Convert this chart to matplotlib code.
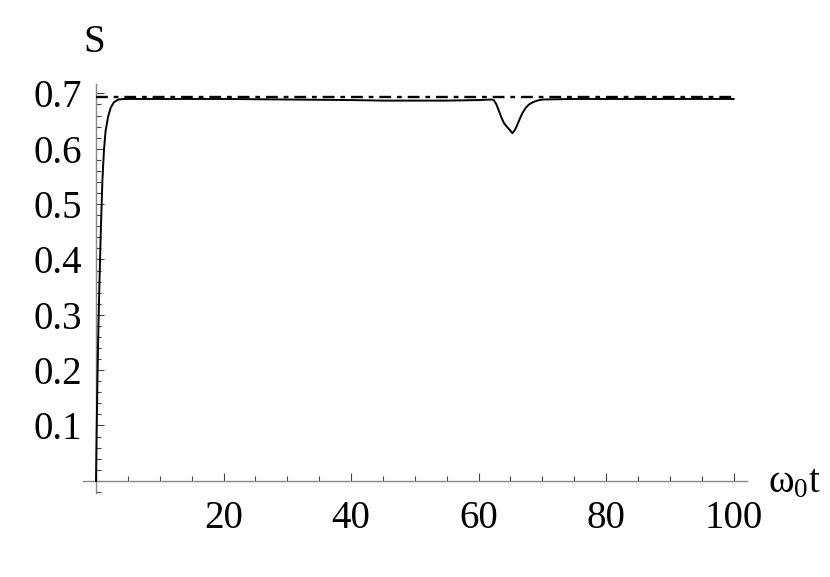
import matplotlib
matplotlib.use("Agg")
import matplotlib.pyplot as plt
from matplotlib.ticker import MultipleLocator, FixedLocator

# Entropy S versus omega_0 t
t_vals = [0, 0.1, 0.25, 0.4, 0.55, 0.75, 1.0, 1.25, 1.5, 1.9, 2.3, 2.8, 3.5, 4.5,
          6, 10, 20, 30, 40, 45, 50, 55, 60, 62, 62.4, 62.8, 63.2, 63.6, 64.0,
          64.5, 64.9, 65.3, 65.7, 66.1, 66.5, 66.9, 67.4, 67.9, 68.5, 69.2,
          70, 75, 80, 90, 100]
s_vals = [0, 0.09, 0.2, 0.29, 0.362, 0.45, 0.542, 0.598, 0.632, 0.658, 0.674,
          0.684, 0.689, 0.690, 0.690, 0.690, 0.690, 0.689, 0.688, 0.687, 0.687,
          0.687, 0.688, 0.689, 0.688, 0.680, 0.668, 0.656, 0.646, 0.639, 0.634,
          0.628, 0.634, 0.644, 0.655, 0.665, 0.674, 0.680, 0.684, 0.687, 0.689,
          0.690, 0.690, 0.690, 0.690]

# asymptote ln 2
asym_t = [0, 100]
asym_s = [0.6931, 0.6931]

x_major = [20, 40, 60, 80, 100]
x_labels = ["20", "40", "60", "80", "100"]
y_major = [0.1, 0.2, 0.3, 0.4, 0.5, 0.6, 0.7]
y_labels = ["0.1", "0.2", "0.3", "0.4", "0.5", "0.6", "0.7"]

plt.rcParams['font.family'] = ['Liberation Serif', 'DejaVu Serif']
plt.rcParams['mathtext.fontset'] = 'custom'
plt.rcParams['mathtext.rm'] = 'Liberation Serif'
plt.rcParams['mathtext.it'] = 'Liberation Serif'

fig = plt.figure(figsize=(8.30, 5.77), dpi=100)
ax = fig.add_axes([0.1, 0.1456, 0.8, 0.7088])

ax.plot(t_vals, s_vals, color='black', lw=1.4, zorder=3)
ax.plot(asym_t, asym_s, color='black', lw=1.7, linestyle=(0, (5, 2.5, 2, 2.5)), zorder=4)

ax.set_xlim(-2.04, 102.1)
ax.set_ylim(-0.022, 0.717)

for side in ['top', 'right']:
    ax.spines[side].set_visible(False)
ax.spines['left'].set_position(('data', 0))
ax.spines['bottom'].set_position(('data', 0))
axis_col = '#888888'
for side in ['left', 'bottom']:
    ax.spines[side].set_color(axis_col)
    ax.spines[side].set_linewidth(1.0)

ax.xaxis.set_major_locator(FixedLocator(x_major))
ax.set_xticklabels(x_labels)
ax.xaxis.set_minor_locator(MultipleLocator(5))
ax.yaxis.set_major_locator(FixedLocator(y_major))
ax.set_yticklabels(y_labels)
ax.yaxis.set_minor_locator(MultipleLocator(0.02))

ax.tick_params(which='both', direction='in', color='#444444', width=0.8)
ax.tick_params(which='major', length=5.5, labelsize=28)
ax.tick_params(which='minor', length=3.3)
ax.tick_params(axis='x', which='major', pad=14)
ax.tick_params(axis='y', which='major', pad=10)

fig.text(0.113, 0.927, 'S', fontsize=28, ha='center', va='center')
fig.text(0.925, 0.163, r'$\omega_0\mathrm{t}$', fontsize=28, ha='left', va='center')

fig.savefig('out.png', dpi=100)
